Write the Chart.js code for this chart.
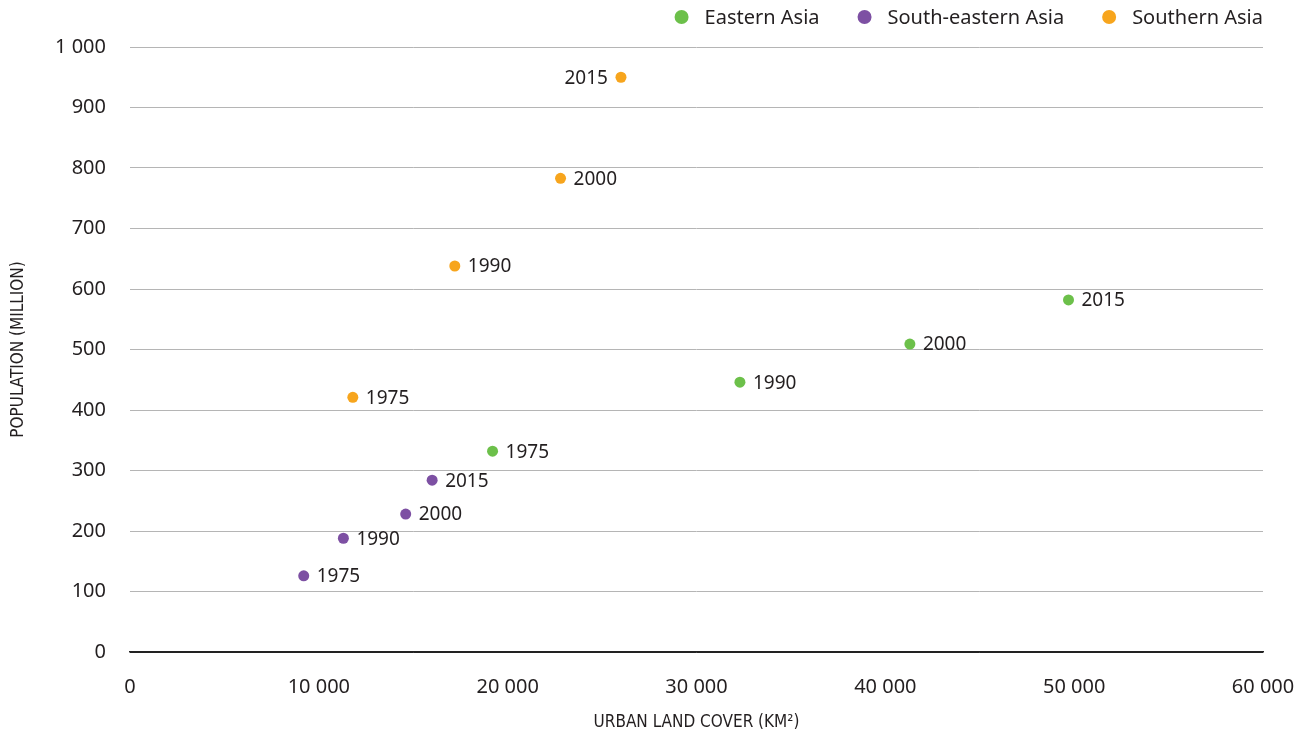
<!DOCTYPE html>
<html>
<head>
<meta charset="utf-8">
<script src="https://cdn.jsdelivr.net/npm/chart.js@4/dist/chart.umd.min.js"></script>
<style>
  html, body { margin: 0; padding: 0; background: #fff; }
  #wrap { width: 1311px; height: 735px; }
</style>
</head>
<body>
<div id="wrap"><canvas id="chart"></canvas></div>
<script>
// Data (urban land cover km2, population million)
var years = ['1975', '1990', '2000', '2015'];
var eastLand = [19200, 32300, 41300, 49700];
var eastPop = [332, 446, 509, 582];
var southEastLand = [9200, 11300, 14600, 16000];
var southEastPop = [126, 188, 228, 284];
var southLand = [11800, 17200, 22800, 26000];
var southPop = [421, 638, 783, 950];

var seriesNames = ['Eastern Asia', 'South-eastern Asia', 'Southern Asia'];
var seriesColors = ['#6cc04a', '#7d50a3', '#f7a51d'];

function toPoints(xs, ys) {
    return xs.map(function (x, i) { return { x: x, y: ys[i] }; });
}

function spaced(v) {
    return String(v).replace(/\B(?=(\d{3})+(?!\d))/g, ' ');
}

var textColor = '#231f20';
var bodyFont = "'Noto Sans', 'Open Sans', sans-serif";
var narrowFont = "'Liberation Sans Narrow', 'DejaVu Sans Condensed', sans-serif";

// year labels next to each point; the top orange one sits on the left
var yearLabels = {
    id: 'yearLabels',
    afterDatasetsDraw: function (chart) {
        var ctx = chart.ctx;
        ctx.save();
        ctx.font = '19px ' + bodyFont;
        ctx.fillStyle = textColor;
        ctx.textBaseline = 'middle';
        chart.data.datasets.forEach(function (ds, di) {
            var meta = chart.getDatasetMeta(di);
            meta.data.forEach(function (pt, i) {
                var left = (di === 2 && i === 3);
                ctx.textAlign = left ? 'right' : 'left';
                ctx.fillText(years[i], pt.x + (left ? -13 : 13), pt.y + 1);
            });
        });
        ctx.restore();
    }
};

// legend on the top right, ending at the plot's right edge
var topLegend = {
    id: 'topLegend',
    afterDraw: function (chart) {
        var ctx = chart.ctx;
        var area = chart.chartArea;
        ctx.save();
        ctx.font = '20px ' + bodyFont;
        ctx.textBaseline = 'middle';
        ctx.textAlign = 'left';
        var widths = seriesNames.map(function (n) { return ctx.measureText(n).width; });
        var total = 0;
        widths.forEach(function (w, i) { total += 23 + w + (i < widths.length - 1 ? 45 : 0); });
        var x = area.right - total;
        var y = 17;
        seriesNames.forEach(function (n, i) {
            ctx.fillStyle = seriesColors[i];
            ctx.beginPath();
            ctx.arc(x, y, 7, 0, Math.PI * 2);
            ctx.fill();
            ctx.fillStyle = textColor;
            ctx.fillText(n, x + 23, y + 1);
            x += 23 + widths[i] + 45;
        });
        ctx.restore();
    }
};

var datasets = [
    { label: seriesNames[0], data: toPoints(eastLand, eastPop) },
    { label: seriesNames[1], data: toPoints(southEastLand, southEastPop) },
    { label: seriesNames[2], data: toPoints(southLand, southPop) }
].map(function (d, i) {
    d.backgroundColor = seriesColors[i];
    d.borderColor = seriesColors[i];
    d.pointRadius = 5.5;
    d.pointHoverRadius = 5.5;
    d.borderWidth = 0;
    return d;
});

new Chart(document.getElementById('chart'), {
    type: 'scatter',
    data: { datasets: datasets },
    plugins: [yearLabels, topLegend],
    options: {
        responsive: true,
        maintainAspectRatio: false,
        animation: false,
        layout: { padding: { left: 0, right: 48, top: 47, bottom: 0 } },
        plugins: {
            tooltip: { enabled: false },
            legend: { display: false }
        },
        scales: {
            x: {
                type: 'linear',
                min: 0,
                max: 60000,
                afterFit: function (s) {
                    s.height = 83;
                    s.paddingRight = 0;
                    s.paddingLeft = 0;
                },
                ticks: {
                    stepSize: 10000,
                    color: textColor,
                    padding: 23,
                    maxRotation: 0,
                    font: { family: bodyFont, size: 20 },
                    callback: function (v) { return spaced(v); }
                },
                grid: { display: false, drawTicks: false },
                border: { display: true, color: '#222', width: 1.5 },
                title: {
                    display: true,
                    text: 'URBAN LAND COVER (KM²)',
                    color: textColor,
                    font: { family: narrowFont, size: 17 },
                    padding: { top: 0, bottom: 2 }
                }
            },
            y: {
                min: 0,
                max: 1000,
                afterFit: function (s) { s.width = 130; },
                ticks: {
                    stepSize: 100,
                    color: textColor,
                    padding: 24,
                    font: { family: bodyFont, size: 20 },
                    callback: function (v) { return spaced(v); }
                },
                grid: {
                    drawTicks: false,
                    color: function (c) { return c.tick && c.tick.value === 0 ? '#222' : '#b5b5b5'; },
                    lineWidth: 1
                },
                border: { display: false },
                title: {
                    display: true,
                    text: 'POPULATION (MILLION)',
                    color: textColor,
                    font: { family: narrowFont, size: 17 },
                    padding: { top: 8, bottom: 0 }
                }
            }
        }
    }
});
</script>
</body>
</html>
